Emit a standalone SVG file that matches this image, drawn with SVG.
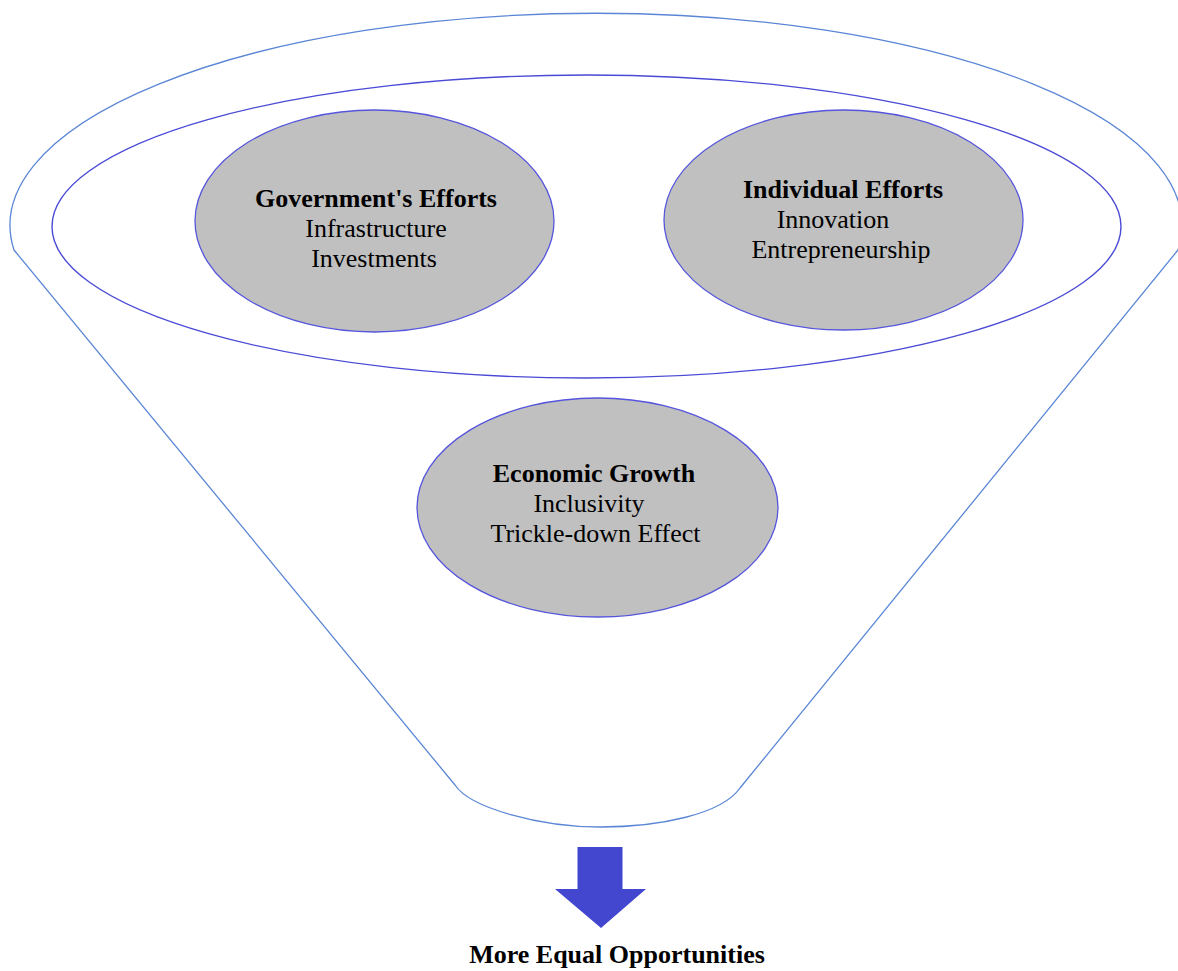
<svg xmlns="http://www.w3.org/2000/svg" width="1178" height="971" viewBox="0 0 1178 971">
  <style>
    .funnel { fill: none; stroke: #5b86d6; stroke-width: 1.3; }
    .ring { fill: none; stroke: #4a4ad6; stroke-width: 1.4; }
    .bubble { fill: #c0c0c0; stroke: #5555dd; stroke-width: 1.3; }
    .title { font-family: "Liberation Serif", "Times New Roman", serif; font-size: 26px; font-weight: bold; fill: #000; text-anchor: middle; }
    .item { font-family: "Liberation Serif", "Times New Roman", serif; font-size: 26px; fill: #000; text-anchor: middle; }
    .result { fill: #4347cf; }
  </style>
  <rect width="1178" height="971" fill="#fff"/>

  <!-- funnel outline: wide elliptical rim narrowing to a rounded spout -->
  <g id="funnel">
    <path class="funnel" d="M 14,250 L 455,785 C 470,808 540,827 600,827 C 660,827 722,814 740,788 L 1178,250 A 586 212 0 1 0 14,250 Z"/>
  </g>

  <!-- inner ring grouping the two kinds of effort -->
  <g id="efforts-ring">
    <ellipse class="ring" cx="586.5" cy="226.5" rx="534.5" ry="151.5"/>
  </g>

  <g id="government">
    <ellipse class="bubble" cx="374.5" cy="221" rx="179.5" ry="111"/>
    <text class="title" x="376" y="207">Government's Efforts</text>
    <text class="item" x="376" y="237">Infrastructure</text>
    <text class="item" x="374" y="267">Investments</text>
  </g>

  <g id="individual">
    <ellipse class="bubble" cx="843.5" cy="220" rx="179.5" ry="110"/>
    <text class="title" x="843" y="198">Individual Efforts</text>
    <text class="item" x="833" y="228">Innovation</text>
    <text class="item" x="841" y="258">Entrepreneurship</text>
  </g>

  <g id="growth">
    <ellipse class="bubble" cx="597.5" cy="507.5" rx="180.5" ry="109.5"/>
    <text class="title" x="594" y="482">Economic Growth</text>
    <text class="item" x="589" y="512">Inclusivity</text>
    <text class="item" x="595.5" y="542">Trickle-down Effect</text>
  </g>

  <!-- outflow of the funnel -->
  <g id="connectors">
    <path class="result" d="M 577.5,847 L 622.5,847 L 622.5,889 L 646,889 L 601,928 L 555,889 L 577.5,889 Z"/>
  </g>

  <g id="outcome">
    <text class="title" x="617" y="963">More Equal Opportunities</text>
  </g>
</svg>
